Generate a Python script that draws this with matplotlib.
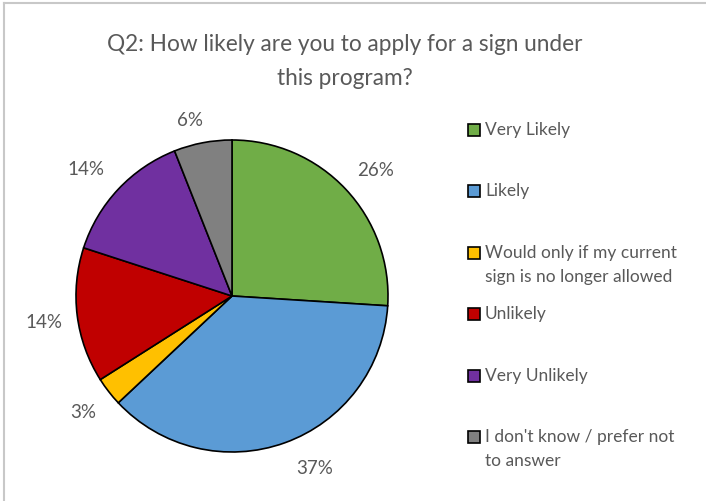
import numpy as np
import matplotlib
matplotlib.use('Agg')
import matplotlib.pyplot as plt
from matplotlib.patches import Rectangle
from matplotlib.lines import Line2D

plt.rcParams['font.family'] = ['Lato', 'DejaVu Sans']

TITLE = 'Q2: How likely are you to apply for a sign under\nthis program?'
categories = ['Very Likely', 'Likely',
              'Would only if my current\nsign is no longer allowed',
              'Unlikely', 'Very Unlikely',
              "I don't know / prefer not\nto answer"]
percents = [26, 37, 3, 14, 14, 6]
colors = ['#70AD47', '#5B9BD5', '#FFC000', '#C00000', '#7030A0', '#808080']
TEXT = '#595959'

# label placement around the pie: radial distance and angular nudge (deg)
label_dist = [1.23, 1.22, 1.21, 1.22, 1.245, 1.16]
label_nudge = [-1.8, 6, 0, 0.6, 2, 2.6]

W, H = 706, 502
fig = plt.figure(figsize=(W / 100, H / 100), dpi=100)

# light frame along the top and left edges
fig.add_artist(Line2D([4 / W, 4 / W], [0, 1 - 4 / H], color='#C8C8C8', lw=1.5))
fig.add_artist(Line2D([4 / W, 1], [1 - 4 / H, 1 - 4 / H], color='#C8C8C8', lw=1.5))

fig.text(345 / W, 1 - 61.5 / H, TITLE, ha='center', va='center',
         fontsize=16.3, color=TEXT, linespacing=1.75)

# pie: centre (232, 297) px, radius 156 px
cx, cy, r = 232, 297, 156
ax = fig.add_axes([(cx - r) / W, (H - cy - r) / H, 2 * r / W, 2 * r / H])
wedges, texts, autotexts = ax.pie(
    percents, colors=colors, startangle=90, counterclock=False,
    autopct='%d%%', pctdistance=1.22,
    wedgeprops=dict(edgecolor='black', linewidth=1.2),
    textprops=dict(color=TEXT, fontsize=13.5))
for w, t, d, nudge in zip(wedges, autotexts, label_dist, label_nudge):
    ang = np.deg2rad((w.theta1 + w.theta2) / 2 + nudge)
    t.set_position((d * np.cos(ang), d * np.sin(ang)))
ax.set_xlim(-1, 1)
ax.set_ylim(-1, 1)
ax.set_aspect('equal')
ax.axis('off')

# hand-drawn legend on the right
x_box, x_txt = 468, 485
y0, step = 131, 61.4
for i, (lab, col) in enumerate(zip(categories, colors)):
    y = y0 + i * step
    fig.add_artist(Rectangle((x_box / W, 1 - (y + 6) / H), 12 / W, 12 / H,
                             facecolor=col, edgecolor='black', lw=1.2))
    fig.text(x_txt / W, 1 - (y - 9) / H, lab, ha='left', va='top',
             fontsize=12.5, color=TEXT, linespacing=1.6)

fig.savefig('out.png', dpi=100)
